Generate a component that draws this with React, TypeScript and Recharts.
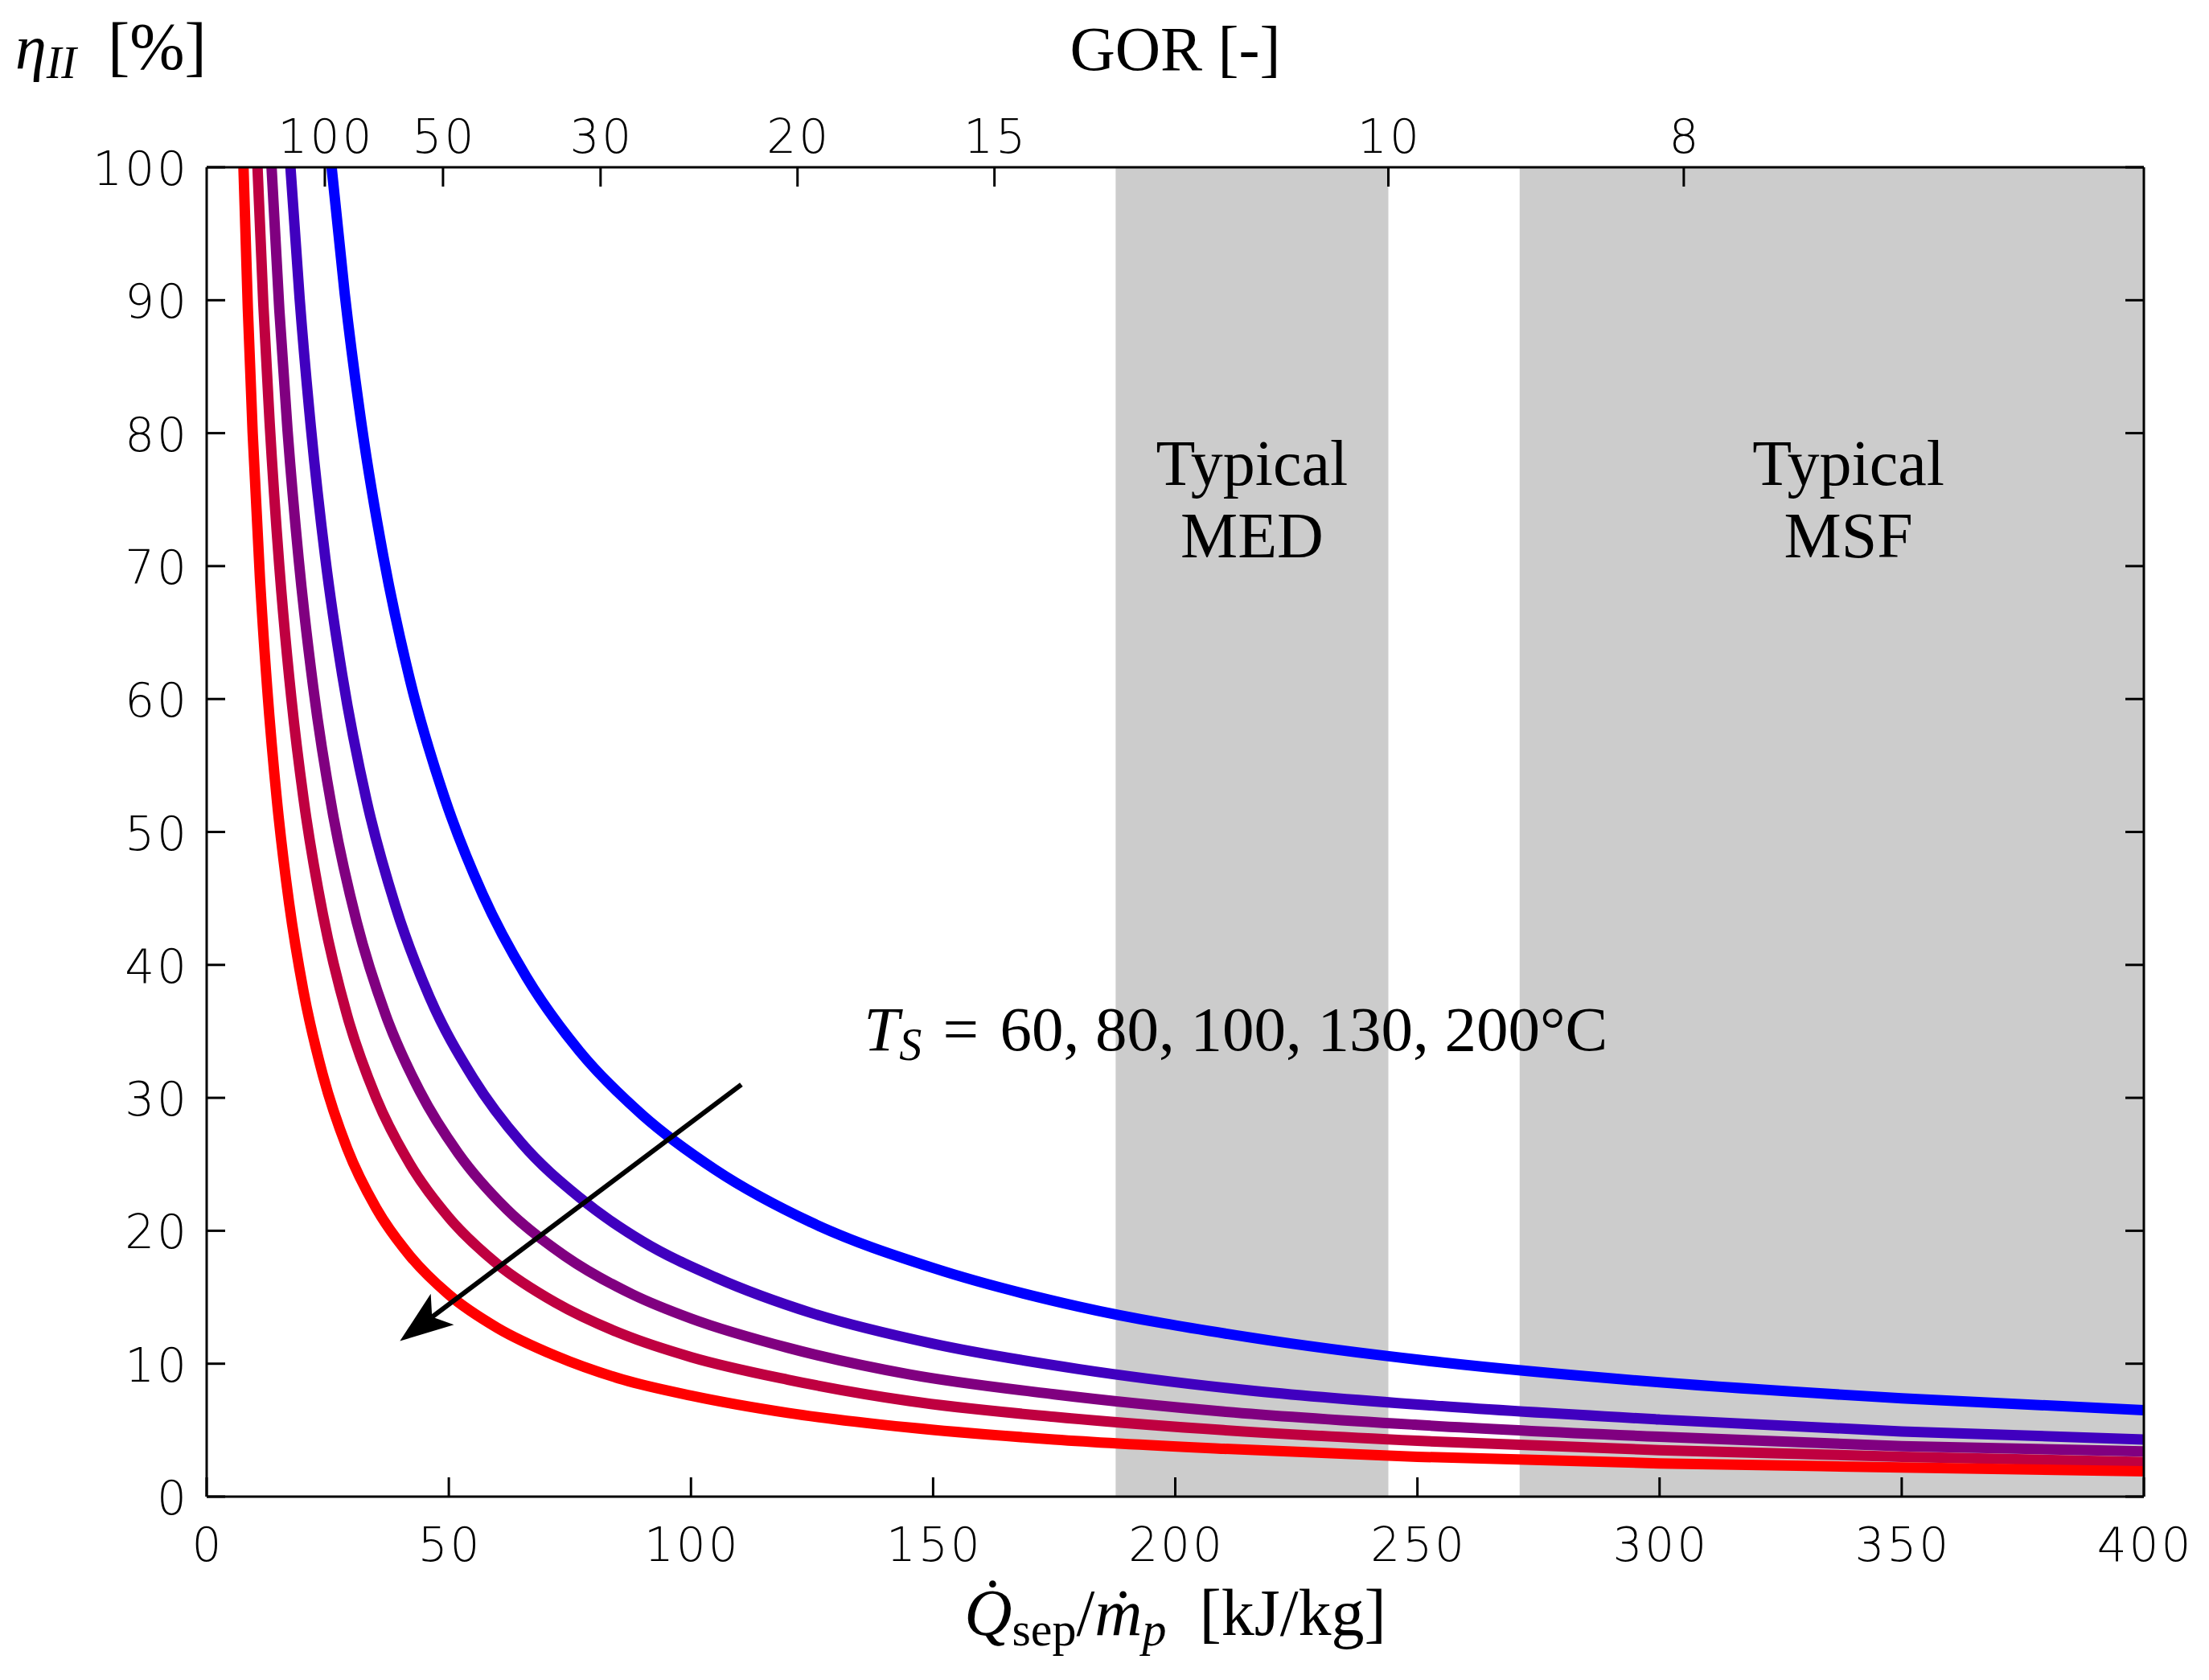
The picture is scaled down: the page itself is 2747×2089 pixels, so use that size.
import React from 'react';
import { LineChart, Line, XAxis, YAxis, ReferenceArea, ReferenceLine, ReferenceDot, Label } from 'recharts';

const SERIF = '"Liberation Serif", "DejaVu Serif", serif';
const TICKFONT = '"DejaVu Sans", "DejaVu Sans Mono", sans-serif';

// Axis ticks
const qTicks = [0, 50, 100, 150, 200, 250, 300, 350, 400];
const etaTicks = [0, 10, 20, 30, 40, 50, 60, 70, 80, 90, 100];
const gorTickLabels = [100, 50, 30, 20, 15, 10, 8];
const LATENT_HEAT = 2440; // kJ/kg : GOR = h_fg / (Q_sep / m_p)

// Typical ranges (GOR)
const medGorRange = [13, 10];
const msfGorStart = 9;

// Series: T_S = 60, 80, 100, 130, 200 °C  (x = Q_sep/m_p [kJ/kg], y = eta_II [%])
const q200 = [7.6, 8.5, 9.5, 11, 12.5, 14.5, 17, 20, 24, 29, 35, 42, 50, 60, 72, 86, 100, 120, 145, 175, 210, 250, 300, 350, 400];
const eta200 = [100, 89.4, 80, 69.1, 60.8, 52.4, 44.7, 38, 31.7, 26.2, 21.7, 18.1, 15.2, 12.7, 10.6, 8.8, 7.6, 6.3, 5.2, 4.3, 3.6, 3.0, 2.5, 2.2, 1.9];

const q130 = [10.5, 11.7, 13, 15, 17.5, 20, 24, 29, 35, 42, 50, 60, 72, 86, 100, 120, 145, 175, 210, 250, 300, 350, 400];
const eta130 = [100, 89.7, 80.8, 70, 60, 52.5, 43.8, 36.2, 30, 25, 21, 17.5, 14.6, 12.2, 10.5, 8.8, 7.2, 6.0, 5.0, 4.2, 3.5, 3.0, 2.6];

const q100 = [13.4, 15, 16.7, 19, 22, 26, 31, 37, 44, 52, 62, 74, 88, 100, 120, 145, 175, 210, 250, 300, 350, 400];
const eta100 = [100, 89.3, 80.2, 70.5, 60.9, 51.5, 43.2, 36.2, 30.5, 25.8, 21.6, 18.1, 15.2, 13.4, 11.2, 9.2, 7.7, 6.4, 5.4, 4.5, 3.8, 3.4];

const q80 = [17.3, 19.2, 21.5, 24.5, 28, 33, 39, 46, 55, 65, 77, 90, 105, 125, 150, 180, 215, 255, 300, 350, 400];
const eta80 = [100, 90.1, 80.5, 70.6, 61.8, 52.4, 44.4, 37.6, 31.5, 26.6, 22.5, 19.2, 16.5, 13.8, 11.5, 9.6, 8.0, 6.8, 5.8, 4.9, 4.3];

const q60 = [25.8, 28.5, 32, 36.5, 42, 49, 57, 66, 77, 90, 105, 125, 150, 180, 215, 255, 300, 350, 400];
const eta60 = [100, 90.5, 80.6, 70.7, 61.4, 52.7, 45.3, 39.1, 33.5, 28.7, 24.6, 20.6, 17.2, 14.3, 12.0, 10.1, 8.6, 7.4, 6.5];

const seriesColors = ['#0000ff', '#4000bf', '#800080', '#bf0040', '#ff0000'];

const toRows = (qs: number[], es: number[]) => qs.map((q, i) => ({ q, eta: es[i] }));
const series = [
  { name: '60', data: toRows(q60, eta60), color: seriesColors[0] },
  { name: '80', data: toRows(q80, eta80), color: seriesColors[1] },
  { name: '100', data: toRows(q100, eta100), color: seriesColors[2] },
  { name: '130', data: toRows(q130, eta130), color: seriesColors[3] },
  { name: '200', data: toRows(q200, eta200), color: seriesColors[4] },
];

// Annotation anchors (data coordinates)
const arrowFrom = { x: 110.4, y: 31.0 };
const arrowTo = { x: 39.9, y: 11.7 };
const tsLabelPos = { x: 135.7, y: 33.6 };
const regionLabelY = 76.1;
const msfLabelX = 339;

const TICK_FONT = 58;
const TICK_LS = 3;
const TICK_W = 200;

const tickText = (x: number, y: number, anchor: string, label: any) => (
  <text
    x={x}
    y={y}
    textAnchor={anchor}
    fontFamily={TICKFONT}
    fontWeight={TICK_W}
    fontSize={TICK_FONT}
    letterSpacing={TICK_LS}
    fill="#000"
  >
    {label}
  </text>
);

const BottomTick = (p: any) => {
  const { x, y, payload } = p;
  return (
    <g>
      <line x1={x} y1={y} x2={x} y2={y - 24} stroke="#000" strokeWidth={3} />
      {tickText(x + TICK_LS / 2, y + 80, 'middle', payload.value)}
    </g>
  );
};

const gorTickShape = (gor: number) => (p: any) => {
  const { cx, cy } = p;
  return (
    <g>
      <line x1={cx} y1={cy} x2={cx} y2={cy + 24} stroke="#000" strokeWidth={3} />
      {tickText(cx + TICK_LS / 2, cy - 18, 'middle', gor)}
    </g>
  );
};

const LeftTick = (p: any) => {
  const { x, y, payload } = p;
  return (
    <g>
      <line x1={x} y1={y} x2={x + 23} y2={y} stroke="#000" strokeWidth={3} />
      {tickText(x - 22, y + 22, 'end', payload.value)}
    </g>
  );
};

const RightTick = (p: any) => {
  const { x, y } = p;
  return <line x1={x} y1={y} x2={x - 23} y2={y} stroke="#000" strokeWidth={3} />;
};

const ArrowShape = (props: any) => {
  const { x1, y1, x2, y2 } = props;
  const dx = x2 - x1;
  const dy = y2 - y1;
  const len = Math.hypot(dx, dy) || 1;
  const ux = dx / len;
  const uy = dy / len;
  const px = -uy;
  const py = ux;
  const headLen = 66;
  const notch = 50;
  const half = 24;
  const bx = x2 - ux * headLen;
  const by = y2 - uy * headLen;
  const nx = x2 - ux * notch;
  const ny = y2 - uy * notch;
  return (
    <g>
      <line x1={x1} y1={y1} x2={nx} y2={ny} stroke="#000" strokeWidth={6} />
      <path d={`M${x2},${y2} L${bx + px * half},${by + py * half} L${nx},${ny} L${bx - px * half},${by - py * half} Z`} fill="#000" />
    </g>
  );
};

const TsLabel = (p: any) => (
  <text x={p.cx} y={p.cy} fontFamily={SERIF} fontSize={79} fill="#000">
    <tspan fontStyle="italic">T</tspan>
    <tspan fontStyle="italic" fontSize={56} dy={12}>S</tspan>
    <tspan dy={-12}>{'\u2004=\u200460, 80, 100, 130, 200\u00b0C'}</tspan>
  </text>
);

const regionLabel = (name: string) => (p: any) => (
  <text x={p.cx} y={p.cy} textAnchor="middle" fontFamily={SERIF} fontSize={80} fill="#000">
    <tspan x={p.cx}>Typical</tspan>
    <tspan x={p.cx} dy={90}>{name}</tspan>
  </text>
);

const XTitle = (p: any) => {
  const vb = p.viewBox;
  const cx = vb.x + vb.width / 2;
  return (
    <text x={cx} y={vb.y + 172} textAnchor="middle" fontFamily={SERIF} fontSize={82} fill="#000">
      <tspan fontStyle="italic">{'Q\u0307'}</tspan>
      <tspan fontSize={60} dy={13}>sep</tspan>
      <tspan dy={-13}>/</tspan>
      <tspan fontStyle="italic">{'m\u0307'}</tspan>
      <tspan fontStyle="italic" fontSize={60} dy={13}>p</tspan>
      <tspan dy={-13}>{'\u00a0\u00a0[kJ/kg]'}</tspan>
    </text>
  );
};

const TopTitle = (p: any) => {
  const vb = p.viewBox;
  const cx = vb.x + vb.width / 2;
  return (
    <text x={cx} y={vb.y + vb.height - 121} textAnchor="middle" fontFamily={SERIF} fontSize={78} fill="#000">
      GOR [-]
    </text>
  );
};

const YTitle = (p: any) => {
  const vb = p.viewBox;
  return (
    <text x={vb.x + vb.width - 238} y={vb.y - 123} fontFamily={SERIF} fontSize={78} fill="#000">
      <tspan fontStyle="italic">η</tspan>
      <tspan fontStyle="italic" fontSize={56} dy={12}>II</tspan>
      <tspan dy={-12}>{'\u2002'}</tspan>
      <tspan fontSize={82}>[%]</tspan>
    </text>
  );
};

export default function App() {
  const medX1 = LATENT_HEAT / medGorRange[0];
  const medX2 = LATENT_HEAT / medGorRange[1];
  const msfX1 = LATENT_HEAT / msfGorStart;
  const msfX2 = qTicks[qTicks.length - 1];
  const yMax = etaTicks[etaTicks.length - 1];
  return (
    <div style={{ position: 'absolute', left: 0, top: 0, width: 2747, height: 2089, background: '#fff' }}>
      <LineChart width={2747} height={2089} margin={{ top: 207, right: 80, bottom: 227, left: 256 }}>
        <XAxis
          xAxisId="bottom"
          type="number"
          dataKey="q"
          domain={[0, 400]}
          ticks={qTicks}
          allowDataOverflow
          height={1}
          tickSize={0}
          tickMargin={0}
          tickLine={false}
          tick={BottomTick}
          interval={0}
          axisLine={{ stroke: '#000', strokeWidth: 3 }}
        >
          <Label content={XTitle} />
        </XAxis>
        <XAxis
          xAxisId="top"
          orientation="top"
          type="number"
          domain={[0, 400]}
          allowDataOverflow
          height={1}
          tickSize={0}
          tickMargin={0}
          tickLine={false}
          tick={false}
          axisLine={{ stroke: '#000', strokeWidth: 3 }}
        >
          <Label content={TopTitle} />
        </XAxis>
        <YAxis
          yAxisId="left"
          type="number"
          domain={[0, 100]}
          ticks={etaTicks}
          allowDataOverflow
          width={1}
          tickSize={0}
          tickMargin={0}
          tickLine={false}
          tick={LeftTick}
          interval={0}
          axisLine={{ stroke: '#000', strokeWidth: 3 }}
        >
          <Label content={YTitle} />
        </YAxis>
        <YAxis
          yAxisId="right"
          orientation="right"
          type="number"
          domain={[0, 100]}
          ticks={etaTicks}
          allowDataOverflow
          width={1}
          tickSize={0}
          tickMargin={0}
          tickLine={false}
          tick={RightTick}
          interval={0}
          axisLine={{ stroke: '#000', strokeWidth: 3 }}
        />
        <ReferenceArea xAxisId="bottom" yAxisId="left" x1={medX1} x2={medX2} fill="#cccccc" fillOpacity={1} stroke="none" />
        <ReferenceArea xAxisId="bottom" yAxisId="left" x1={msfX1} x2={msfX2} fill="#cccccc" fillOpacity={1} stroke="none" />
        {series.map((s) => (
          <Line
            key={s.name}
            xAxisId="bottom"
            yAxisId="left"
            data={s.data}
            dataKey="eta"
            type="monotone"
            stroke={s.color}
            strokeWidth={13}
            dot={false}
            activeDot={false}
            isAnimationActive={false}
          />
        ))}
        <ReferenceLine
          xAxisId="bottom"
          yAxisId="left"
          segment={[arrowFrom, arrowTo]}
          shape={ArrowShape}
        />
        {gorTickLabels.map((g) => (
          <ReferenceDot
            key={`gor-${g}`}
            xAxisId="bottom"
            yAxisId="left"
            x={LATENT_HEAT / g}
            y={yMax}
            r={0}
            ifOverflow="visible"
            shape={gorTickShape(g)}
          />
        ))}
        <ReferenceDot xAxisId="bottom" yAxisId="left" x={tsLabelPos.x} y={tsLabelPos.y} r={0} shape={TsLabel} />
        <ReferenceDot xAxisId="bottom" yAxisId="left" x={(medX1 + medX2) / 2} y={regionLabelY} r={0} shape={regionLabel('MED')} />
        <ReferenceDot xAxisId="bottom" yAxisId="left" x={msfLabelX} y={regionLabelY} r={0} shape={regionLabel('MSF')} />
      </LineChart>
    </div>
  );
}
